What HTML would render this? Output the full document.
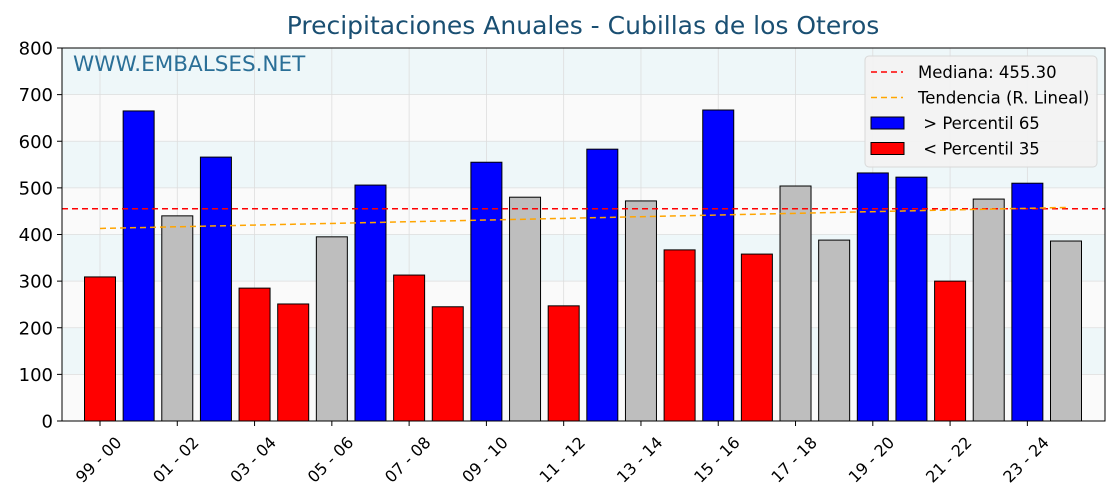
<!DOCTYPE html>
<html><head><meta charset="utf-8"><style>
body{margin:0;background:#fff;font-family:"DejaVu Sans","Liberation Sans",sans-serif}
</style></head><body>
<svg id="chart" width="1120" height="500" xmlns="http://www.w3.org/2000/svg"></svg>
<script>
const seasons=["99 - 00","00 - 01","01 - 02","02 - 03","03 - 04","04 - 05","05 - 06","06 - 07","07 - 08","08 - 09","09 - 10","10 - 11","11 - 12","12 - 13","13 - 14","14 - 15","15 - 16","16 - 17","17 - 18","18 - 19","19 - 20","20 - 21","21 - 22","22 - 23","23 - 24","24 - 25"];
const rainfall=[309,665,440,566,285,251,395,506,313,245,555,480,247,583,472,367,667,358,504,388,532,523,300,476,510,386];
const categoryClass=["low","high","mid","high","low","low","mid","high","low","low","high","mid","low","high","mid","low","high","low","mid","mid","high","high","low","mid","high","mid"];
const yTicks=[0,100,200,300,400,500,600,700,800];
const medianValue=455.30;
const trendStart=413, trendEnd=458;

const svg=document.getElementById('chart');
const NS='http://www.w3.org/2000/svg';
const L=62,R=1105,T=48,B=421,ymax=800;
const xs=i=>100 + i*38.64;
const ys=v=>B-(v/ymax)*(B-T);
function mk(tag,attrs,parent){const e=document.createElementNS(NS,tag);for(const k in attrs)e.setAttribute(k,attrs[k]);(parent||svg).appendChild(e);return e;}
const colors={high:"#0000ff",low:"#ff0000",mid:"#bebebe"};

for(let i=0;i<8;i++){
 const b=mk('rect',{x:L,y:ys(i*100+100),width:R-L,height:ys(0)-ys(100),fill:(i%2===0)?'#fafafa':'#eef7f9'});
 
 
}
yTicks.forEach(t=>{const g=mk('line',{x1:L,x2:R,y1:ys(t),y2:ys(t),stroke:'#dddddd','stroke-width':0.8});
 });
seasons.forEach((s,i)=>{if(i%2===0){const g=mk('line',{x1:xs(i),x2:xs(i),y1:T,y2:B,stroke:'#dddddd','stroke-width':0.8});
 }});
const wm=mk('text',{x:73,y:71,'font-size':21.5,fill:'#2a6f97'});wm.textContent='WWW.EMBALSES.NET';

rainfall.forEach((v,i)=>{const r=mk('rect',{x:xs(i)-15.5,y:ys(v),width:31,height:B-ys(v),fill:colors[categoryClass[i]],stroke:'#000','stroke-width':1});
 });
const md=mk('line',{x1:L,x2:R,y1:ys(medianValue),y2:ys(medianValue),stroke:'#ff0000','stroke-width':1.5,'stroke-dasharray':'6,4'});

const tr=mk('line',{x1:xs(0),x2:xs(seasons.length-1),y1:ys(trendStart),y2:ys(trendEnd),stroke:'#ffa500','stroke-width':1.5,'stroke-dasharray':'6,4'});

const fr=mk('rect',{x:L,y:T,width:R-L,height:B-T,fill:'none',stroke:'#000','stroke-width':1});

yTicks.forEach(t=>{mk('line',{x1:L-5,x2:L,y1:ys(t),y2:ys(t),stroke:'#000'});
 const tx=mk('text',{x:L-9,y:ys(t)+6.5,'font-size':18,'text-anchor':'end',fill:'#000'});tx.textContent=t;
 });
seasons.forEach((s,i)=>{if(i%2!==0)return;mk('line',{x1:xs(i),x2:xs(i),y1:B,y2:B+5,stroke:'#000'});
 const cx=xs(i)-1, cy=B+39;
 const tx=mk('text',{x:cx,y:cy+5,'font-size':16,'text-anchor':'middle',fill:'#000',transform:`rotate(-45 ${cx} ${cy})`});tx.textContent=s;
 });
const ti=mk('text',{x:583,y:34,'font-size':25,'text-anchor':'middle',fill:'#1a4f72'});ti.textContent='Precipitaciones Anuales - Cubillas de los Oteros';

const lg=mk('g',{});
mk('rect',{x:865,y:56,width:232,height:111,rx:4,fill:'#f2f2f2','fill-opacity':0.95,stroke:'#d8d8d8'},lg);
const items=[['line','#ff0000','Mediana: 455.30'],['line','#ffa500','Tendencia (R. Lineal)'],['box','#0000ff',' > Percentil 65'],['box','#ff0000',' < Percentil 35']];
items.forEach((it,k)=>{const y=72+k*25.5;
 if(it[0]==='line')mk('line',{x1:871,x2:903,y1:y,y2:y,stroke:it[1],'stroke-width':1.5,'stroke-dasharray':'6,4'},lg);
 else mk('rect',{x:871,y:y-6,width:33,height:12,fill:it[1],stroke:'#000'},lg);
 const tx=mk('text',{x:918,y:y+6,'font-size':16.5,fill:'#000'},lg);tx.textContent=(it[0]==='box'?'\u00a0':'')+it[2].trim();
 });
</script>
</body></html>
